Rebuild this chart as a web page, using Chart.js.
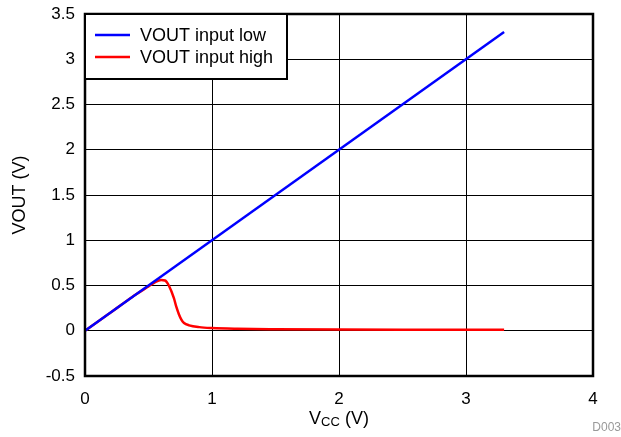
<!DOCTYPE html>
<html>
<head>
<meta charset="utf-8">
<script src="https://cdn.jsdelivr.net/npm/chart.js@4.4.1/dist/chart.umd.min.js"></script>
<style>
  html, body { margin: 0; padding: 0; background: #fff; }
  #wrap { width: 621px; height: 437px; }
</style>
</head>
<body>
<div id="wrap"><canvas id="grafico" width="621" height="437"></canvas></div>
<script>
// dados
const vccLow = [0, 3.3];
const voutLow = [0, 3.3];

const vccHigh = [0, 0.1, 0.2, 0.3, 0.4, 0.5, 0.55, 0.6, 0.63, 0.66, 0.7, 0.72, 0.74, 0.76, 0.78, 0.82, 0.9, 1.0, 1.2, 1.5, 2.0, 2.5, 3.0, 3.3];
const voutHigh = [0, 0.1, 0.2, 0.3, 0.4, 0.49, 0.535, 0.56, 0.555, 0.5, 0.36, 0.26, 0.18, 0.12, 0.085, 0.06, 0.04, 0.03, 0.022, 0.017, 0.013, 0.012, 0.012, 0.012];

const xTicks = [0, 1, 2, 3, 4];
const yTicks = [-0.5, 0, 0.5, 1, 1.5, 2, 2.5, 3, 3.5];

const seriesLabels = ["VOUT input low", "VOUT input high"];
const seriesColors = ["#0000FF", "#FF0000"];

const FONTE = "'Liberation Sans', Arial, sans-serif";

function toPoints(xs, ys) {
  return xs.map((x, i) => ({ x: x, y: ys[i] }));
}

// moldura, legenda e titulo do eixo x com subscrito
const extras = {
  id: "extras",
  afterDraw(chart) {
    const ctx = chart.ctx;
    const a = chart.chartArea;
    ctx.save();

    ctx.strokeStyle = "#000";
    ctx.lineWidth = 2.5;
    ctx.strokeRect(a.left, a.top, a.right - a.left, a.bottom - a.top);

    // legenda dentro da area
    const lx = a.left, ly = a.top, lw = 202, lh = 65;
    ctx.fillStyle = "#fff";
    ctx.fillRect(lx, ly, lw, lh);
    ctx.lineWidth = 2;
    ctx.strokeRect(lx, ly, lw, lh);
    ctx.font = "18px " + FONTE;
    ctx.textBaseline = "middle";
    chart.data.datasets.forEach((ds, i) => {
      const y = ly + 21 + i * 22;
      ctx.strokeStyle = ds.borderColor;
      ctx.lineWidth = 2.5;
      ctx.beginPath();
      ctx.moveTo(lx + 10, y);
      ctx.lineTo(lx + 45, y);
      ctx.stroke();
      ctx.fillStyle = "#000";
      ctx.fillText(ds.label, lx + 55, y + 1);
    });

    // titulo x: V_CC (V)
    const cx = (a.left + a.right) / 2;
    const ty = 424;
    ctx.fillStyle = "#000";
    ctx.textBaseline = "alphabetic";
    ctx.font = "18px " + FONTE;
    const w1 = ctx.measureText("V").width;
    const w3 = ctx.measureText(" (V)").width;
    ctx.font = "13px " + FONTE;
    const w2 = ctx.measureText("CC").width;
    let x = cx - (w1 + w2 + w3) / 2;
    ctx.font = "18px " + FONTE;
    ctx.fillText("V", x, ty);
    x += w1;
    ctx.font = "13px " + FONTE;
    ctx.fillText("CC", x, ty + 2);
    x += w2;
    ctx.font = "18px " + FONTE;
    ctx.fillText(" (V)", x, ty);

    ctx.fillStyle = "#999";
    ctx.font = "12px " + FONTE;
    ctx.textAlign = "right";
    ctx.fillText("D003", 621, 431);
    ctx.restore();
  }
};

new Chart(document.getElementById("grafico"), {
  type: "line",
  data: {
    datasets: [
      {
        label: seriesLabels[0],
        data: toPoints(vccLow, voutLow),
        borderColor: seriesColors[0],
        borderWidth: 2.5,
        pointRadius: 0,
        fill: false
      },
      {
        label: seriesLabels[1],
        data: toPoints(vccHigh, voutHigh),
        borderColor: seriesColors[1],
        borderWidth: 2.5,
        pointRadius: 0,
        fill: false,
        cubicInterpolationMode: "monotone"
      }
    ]
  },
  options: {
    responsive: false,
    animation: false,
    layout: { padding: { left: 0, right: 28, top: 14, bottom: 0 } },
    plugins: {
      legend: { display: false },
      tooltip: { enabled: false }
    },
    scales: {
      x: {
        type: "linear",
        min: 0,
        max: 4,
        afterBuildTicks: (axis) => { axis.ticks = xTicks.map(v => ({ value: v })); },
        afterFit: (axis) => {
          axis.height = 61;
          axis.paddingLeft = 0;
          axis.paddingRight = 0;
        },
        grid: { color: "#000", lineWidth: 1, drawTicks: false },
        border: { display: false },
        ticks: {
          padding: 13,
          color: "#000",
          font: { family: FONTE, size: 17 },
          maxRotation: 0,
          callback: (v) => String(v)
        }
      },
      y: {
        type: "linear",
        min: -0.5,
        max: 3.5,
        afterBuildTicks: (axis) => { axis.ticks = yTicks.map(v => ({ value: v })); },
        afterFit: (axis) => {
          axis.width = 85;
          axis.paddingTop = 0;
          axis.paddingBottom = 0;
        },
        grid: { color: "#000", lineWidth: 1, drawTicks: false },
        border: { display: false },
        title: {
          display: true,
          text: "VOUT (V)",
          color: "#000",
          font: { family: FONTE, size: 18 },
          padding: { top: 9, bottom: 4 }
        },
        ticks: {
          padding: 10,
          color: "#000",
          font: { family: FONTE, size: 17 },
          callback: (v) => String(v)
        }
      }
    }
  },
  plugins: [extras]
});
</script>
</body>
</html>
